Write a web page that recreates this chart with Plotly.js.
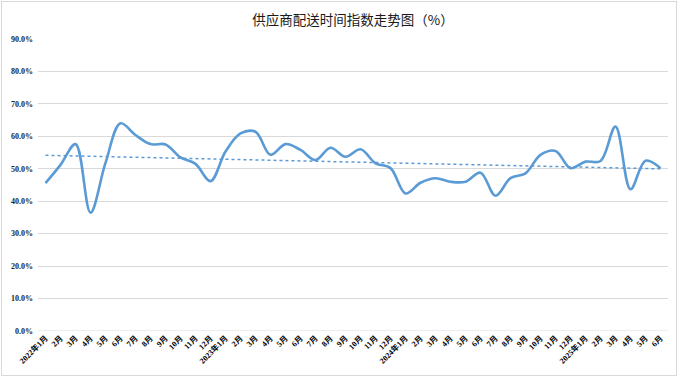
<!DOCTYPE html>
<html>
<head>
<meta charset="utf-8">
<script src="https://cdn.plot.ly/plotly-3.0.1.min.js"></script>
<style>
html,body{margin:0;padding:0;background:#fff;}
#wrap{position:relative;width:680px;height:378px;}
#chart{width:680px;height:378px;}
#frame{position:absolute;left:1px;top:1px;width:674px;height:373px;border:1px solid #d9d9d9;pointer-events:none;}
</style>
</head>
<body>
<div id="wrap"><div id="chart"></div><div id="frame"></div></div>
<script>
const monthLabels = [
  "2022年1月","2月","3月","4月","5月","6月","7月","8月","9月","10月","11月","12月",
  "2023年1月","2月","3月","4月","5月","6月","7月","8月","9月","10月","11月","12月",
  "2024年1月","2月","3月","4月","5月","6月","7月","8月","9月","10月","11月","12月",
  "2025年1月","2月","3月","4月","5月","6月"
];
const deliveryIndex = [
  45.6, 51.2, 57.6, 36.5, 51.8, 64.0, 60.4, 57.6, 57.5, 53.5, 51.5, 46.2,
  55.3, 60.9, 61.4, 54.3, 57.6, 55.8, 52.7, 56.5, 53.7, 56.0, 51.7, 50.2,
  42.4, 45.7, 47.1, 46.0, 46.0, 48.8, 41.7, 47.1, 48.6, 54.3, 55.5, 50.2,
  52.2, 52.4, 63.0, 43.7, 52.5, 50.2
];
const yTicks = [0,10,20,30,40,50,60,70,80,90];

const xs = monthLabels.map((_, i) => i);
// least-squares linear trend
const n = xs.length;
const mx = xs.reduce((a,b)=>a+b,0)/n;
const my = deliveryIndex.reduce((a,b)=>a+b,0)/n;
let sxy = 0, sxx = 0;
for (let i=0;i<n;i++){ sxy += (xs[i]-mx)*(deliveryIndex[i]-my); sxx += (xs[i]-mx)*(xs[i]-mx); }
const slope = sxy/sxx, intercept = my - slope*mx;
const trend = xs.map(x => intercept + slope*x);

const fontFam = '"Liberation Serif", "Noto Sans CJK SC", serif';
const blue = '#5B9BD5';

Plotly.newPlot('chart', [
  {x: xs, y: deliveryIndex, type:'scatter', mode:'lines',
   line:{color:blue, width:2.6, shape:'spline', smoothing:1}, hoverinfo:'skip'},
  {x: xs, y: trend, type:'scatter', mode:'lines',
   line:{color:blue, width:1.5, dash:'dot'}, hoverinfo:'skip'}
], {
  width:680, height:378,
  margin:{l:38, r:12, t:39, b:47},
  paper_bgcolor:'#fff', plot_bgcolor:'#fff',
  showlegend:false,
  title:{text:'供应商配送时间指数走势图（%）', x:0.5, xref:'paper', y:0.947, yref:'container', xanchor:'center', yanchor:'middle',
         font:{family:'"Noto Sans CJK SC", sans-serif', size:13.5, color:'#1a1a1a'}},
  xaxis:{range:[-0.5, 41.5], tickvals: xs, ticktext: monthLabels, tickangle:-45,
         showgrid:false, zeroline:false, showline:false, ticks:'',
         tickfont:{family:fontFam, size:8, color:'#000', weight:'bold'}, automargin:false, fixedrange:true},
  yaxis:{range:[0,90], tickvals: yTicks, ticktext: yTicks.map(v => v.toFixed(1)+'%'),
         showgrid:true, gridcolor:'#d9d9d9', gridwidth:1.2, zeroline:false, showline:false, ticks:'',
         ticklabelstandoff:4,
         tickfont:{family:fontFam, size:8, color:'#262626', weight:'bold'}, automargin:false, fixedrange:true},
  shapes:[{type:'line', xref:'paper', yref:'y', x0:0, x1:1, y0:0, y1:0, line:{color:'#d9d9d9', width:1.2}}]
}, {staticPlot:true, displayModeBar:false});
</script>
</body>
</html>
